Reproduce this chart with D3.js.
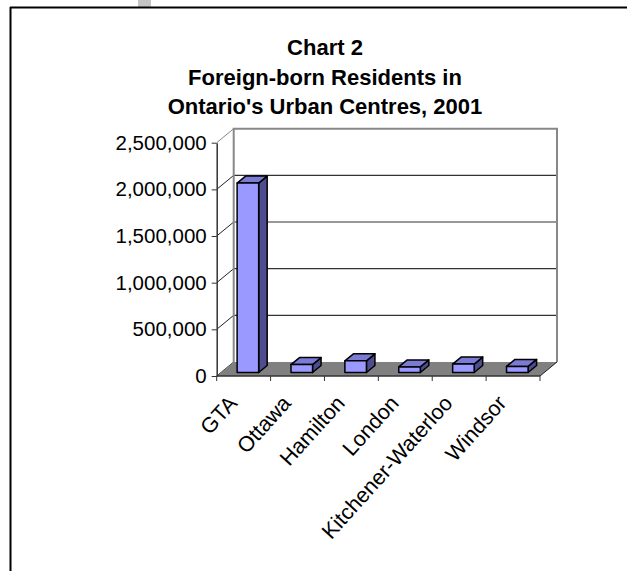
<!DOCTYPE html>
<html>
<head>
<meta charset="utf-8">
<script src="https://cdn.jsdelivr.net/npm/d3@7"></script>
<style>
  body { margin: 0; background: #fff; }
  svg { display: block; font-family: "Liberation Sans", Arial, sans-serif; }
</style>
</head>
<body>
<div id="wrapper"></div>
<script>
// data
const cities = ["GTA", "Ottawa", "Hamilton", "London", "Kitchener-Waterloo", "Windsor"]
const foreignBorn = [2030000, 85000, 125000, 60000, 90000, 65000]
const yTicks = [0, 500000, 1000000, 1500000, 2000000, 2500000]
const titleLines = ["Chart 2", "Foreign-born Residents in", "Ontario's Urban Centres, 2001"]

function drawChart() {
  const width = 627
  const height = 571

  // plot box (front plane) + depth offset of the 3D floor
  const plot = { left: 216.7, right: 540, top: 142.7, bottom: 376 }
  const depth = { dx: 17, dy: -14 }

  const svg = d3.select("#wrapper")
    .append("svg")
      .attr("width", width)
      .attr("height", height)

  // page decoration + frame
  svg.append("rect")
      .attr("x", 138).attr("y", 0)
      .attr("width", 13).attr("height", 7)
      .attr("fill", "#c4c4c4")
  svg.append("line")
      .attr("x1", 10).attr("x2", width)
      .attr("y1", 7.5).attr("y2", 7.5)
      .attr("stroke", "#000").attr("stroke-width", 2)
  svg.append("line")
      .attr("x1", 10.5).attr("x2", 10.5)
      .attr("y1", 7).attr("y2", height)
      .attr("stroke", "#000").attr("stroke-width", 2)

  // title
  svg.append("g")
    .selectAll("text")
    .data(titleLines)
    .join("text")
      .attr("x", 325)
      .attr("y", (d, i) => 55 + i * 29.5)
      .attr("text-anchor", "middle")
      .style("font-size", "22px")
      .style("font-weight", "bold")
      .text(d => d)

  // scales
  const xScale = d3.scaleBand()
    .domain(cities)
    .range([plot.left, plot.right])
    .paddingInner(0.6)
    .paddingOuter(0.3)

  const yScale = d3.scaleLinear()
    .domain([0, 2500000])
    .range([plot.bottom, plot.top])

  const step = xScale.step()
  const x0 = plot.left
  const y0 = yScale(0)
  const proj = (x, y, z) => [x + z * depth.dx, y + z * depth.dy]

  // walls
  const walls = svg.append("g")

  // back wall
  walls.append("rect")
      .attr("x", plot.left + depth.dx)
      .attr("y", plot.top + depth.dy)
      .attr("width", plot.right - plot.left)
      .attr("height", plot.bottom - plot.top)
      .attr("fill", "#fff")

  // gridlines on the back wall and the side wall
  const gridVals = yTicks.filter(d => d > 0 && d < 2500000)
  walls.selectAll(".grid")
    .data(gridVals)
    .join("line")
      .attr("class", "grid")
      .attr("x1", plot.left + depth.dx)
      .attr("x2", plot.right + depth.dx)
      .attr("y1", d => yScale(d) + depth.dy)
      .attr("y2", d => yScale(d) + depth.dy)
      .attr("stroke", "#333")
      .attr("stroke-width", 1.2)
  walls.selectAll(".side-grid")
    .data(yTicks)
    .join("line")
      .attr("class", "side-grid")
      .attr("x1", plot.left)
      .attr("x2", plot.left + depth.dx)
      .attr("y1", d => yScale(d))
      .attr("y2", d => yScale(d) + depth.dy)
      .attr("stroke", d => d === 2500000 ? "#888" : "#222")
      .attr("stroke-width", 1)

  // wall outline (gray)
  walls.append("path")
      .attr("d", `M${plot.left + depth.dx},${y0 + depth.dy}
                  V${plot.top + depth.dy}
                  H${plot.right + depth.dx}
                  V${y0 + depth.dy}`)
      .attr("fill", "none")
      .attr("stroke", "#888")
      .attr("stroke-width", 2)

  // floor
  walls.append("path")
      .attr("d", d3.line()([
        [plot.left, y0], [plot.right, y0],
        proj(plot.right, y0, 1), proj(plot.left, y0, 1)
      ]) + "Z")
      .attr("fill", "#808080")
  walls.append("line")
      .attr("x1", plot.right).attr("y1", y0)
      .attr("x2", plot.right + depth.dx).attr("y2", y0 + depth.dy)
      .attr("stroke", "#222").attr("stroke-width", 1)

  // bars
  const zf = 0.25, zb = 0.75
  const bars = svg.append("g")
    .selectAll("g")
    .data(cities.map((c, i) => ({ city: c, value: foreignBorn[i] })))
    .join("g")

  const barStroke = g => g.attr("stroke", "#000").attr("stroke-width", 1.5).attr("stroke-linejoin", "round")

  bars.append("path")
      .attr("d", d => {
        const bx = xScale(d.city), bw = xScale.bandwidth(), yt = yScale(d.value)
        return d3.line()([proj(bx + bw, yt, zf), proj(bx + bw, yt, zb), proj(bx + bw, y0, zb), proj(bx + bw, y0, zf)]) + "Z"
      })
      .attr("fill", "#4d4d8f")
      .call(barStroke)
  bars.append("path")
      .attr("d", d => {
        const bx = xScale(d.city), bw = xScale.bandwidth(), yt = yScale(d.value)
        return d3.line()([proj(bx, yt, zf), proj(bx + bw, yt, zf), proj(bx + bw, yt, zb), proj(bx, yt, zb)]) + "Z"
      })
      .attr("fill", "#7b7bd6")
      .call(barStroke)
  bars.append("path")
      .attr("d", d => {
        const bx = xScale(d.city), bw = xScale.bandwidth(), yt = yScale(d.value)
        return d3.line()([proj(bx, yt, zf), proj(bx + bw, yt, zf), proj(bx + bw, y0, zf), proj(bx, y0, zf)]) + "Z"
      })
      .attr("fill", "#9999ff")
      .call(barStroke)

  // y axis
  const yAxis = svg.append("g")
      .attr("transform", `translate(${plot.left},0)`)
      .call(d3.axisLeft(yScale)
        .tickValues(yTicks)
        .tickFormat(d3.format(","))
        .tickSize(5)
        .tickSizeOuter(0)
        .tickPadding(5))
  yAxis.select(".domain").attr("stroke", "#333").attr("stroke-width", 1.5)
  yAxis.selectAll(".tick line").attr("stroke", "#333")
  yAxis.selectAll("text")
      .attr("fill", "#000")
      .style("font-size", "20.5px")
      .style("font-family", "Liberation Sans, Arial, sans-serif")

  // x axis: front edge of floor with ticks on category boundaries
  const xAxis = svg.append("g")
  xAxis.append("line")
      .attr("x1", plot.left).attr("x2", plot.right)
      .attr("y1", y0).attr("y2", y0)
      .attr("stroke", "#333").attr("stroke-width", 1.5)
  xAxis.selectAll(".xtick")
    .data(d3.range(cities.length + 1))
    .join("line")
      .attr("class", "xtick")
      .attr("x1", i => x0 + i * step)
      .attr("x2", i => x0 + i * step)
      .attr("y1", y0)
      .attr("y2", y0 + 5)
      .attr("stroke", "#333")
  xAxis.selectAll(".xlabel")
    .data(cities)
    .join("text")
      .attr("class", "xlabel")
      .attr("transform", d => `translate(${xScale(d) + xScale.bandwidth() / 2 - 11},${y0 + 23}) rotate(-48)`)
      .attr("text-anchor", "end")
      .attr("dy", "0.35em")
      .style("font-size", "21.5px")
      .text(d => d)
}
drawChart()
</script>
</body>
</html>
